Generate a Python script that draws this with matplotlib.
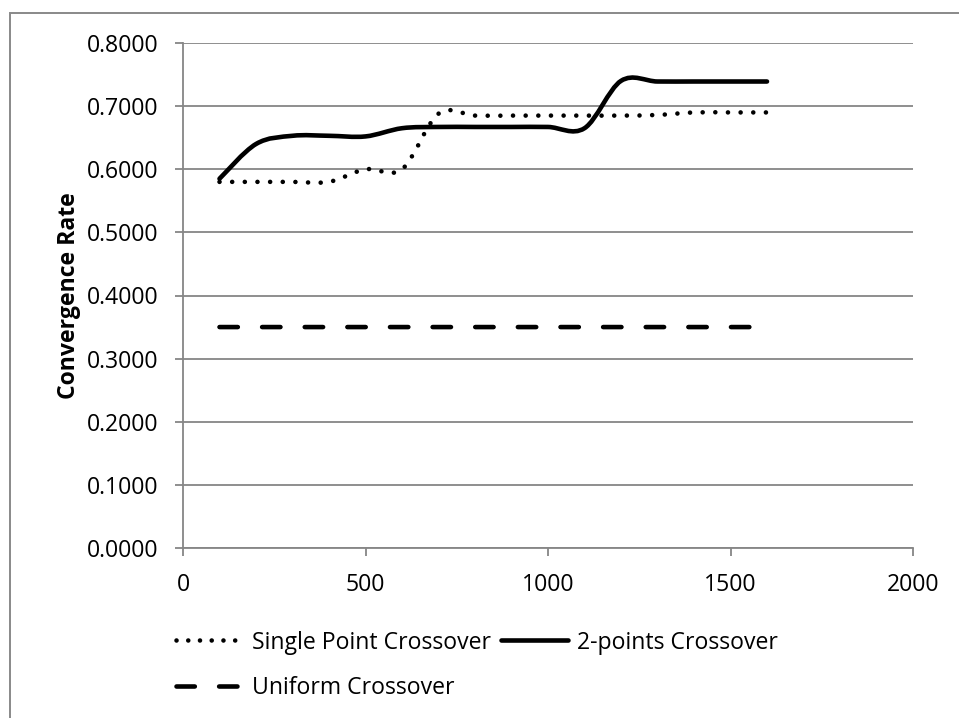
import numpy as np
import matplotlib
matplotlib.use("Agg")
import matplotlib.pyplot as plt
from matplotlib.path import Path
from matplotlib.patches import PathPatch, Rectangle
from matplotlib.lines import Line2D

# data (points every 100 iterations)
iterations = [100, 200, 300, 400, 500, 600, 700, 800, 900, 1000,
              1100, 1200, 1300, 1400, 1500, 1600]
single_point = [0.580, 0.580, 0.580, 0.580, 0.600, 0.600, 0.688, 0.685,
                0.685, 0.685, 0.685, 0.685, 0.686, 0.690, 0.690, 0.690]
two_points = [0.585, 0.640, 0.653, 0.653, 0.652, 0.665, 0.667, 0.667,
              0.667, 0.667, 0.665, 0.740, 0.739, 0.739, 0.739, 0.739]
uniform = [0.350] * 16

y_ticks = [0.0, 0.1, 0.2, 0.3, 0.4, 0.5, 0.6, 0.7, 0.8]
x_ticks = [0, 500, 1000, 1500, 2000]

GRAY = "#868686"
FONT = "Open Sans"
FS = 16.6


def smooth_path(xs, ys):
    # excel style smoothed line: bezier segments with catmull-rom control points
    pts = np.column_stack([xs, ys]).astype(float)
    n = len(pts)
    verts = [pts[0]]
    codes = [Path.MOVETO]
    for i in range(n - 1):
        p0 = pts[max(i - 1, 0)]
        p1 = pts[i]
        p2 = pts[i + 1]
        p3 = pts[min(i + 2, n - 1)]
        c1 = p1 + (p2 - p0) / 6.0
        c2 = p2 - (p3 - p1) / 6.0
        verts += [c1, c2, p2]
        codes += [Path.CURVE4] * 3
    return Path(verts, codes)


fig = plt.figure(figsize=(9.59, 7.18), dpi=100)
ax = fig.add_axes([183 / 959, 1 - 548 / 718, 730 / 959, 505 / 718])

lw = 3.3
dotted = (0, (0.01, 2.75))
dashed = (0, (4.0, 5.3))

ax.add_patch(PathPatch(smooth_path(iterations, single_point), fill=False,
                       edgecolor="black", lw=lw, linestyle=dotted,
                       capstyle="round", joinstyle="round"))
ax.add_patch(PathPatch(smooth_path(iterations, two_points), fill=False,
                       edgecolor="black", lw=lw, capstyle="round",
                       joinstyle="round"))
ax.add_patch(PathPatch(smooth_path(iterations, uniform), fill=False,
                       edgecolor="black", lw=lw, linestyle=dashed,
                       capstyle="round", joinstyle="round"))

ax.set_xlim(0, 2000)
ax.set_ylim(0, 0.8)
ax.set_xticks(x_ticks)
ax.set_yticks(y_ticks)
ax.set_yticklabels(["%.4f" % v for v in y_ticks])
ax.grid(axis="y", color=GRAY, lw=1.3)
ax.set_axisbelow(True)
for s in ["top", "right"]:
    ax.spines[s].set_visible(False)
for s in ["left", "bottom"]:
    ax.spines[s].set_color(GRAY)
    ax.spines[s].set_linewidth(1.3)
ax.tick_params(direction="out", length=6, width=1.3, color=GRAY,
               labelsize=FS, pad=12)
for lab in ax.get_xticklabels() + ax.get_yticklabels():
    lab.set_fontfamily(FONT)

ax.set_ylabel("Convergence Rate", fontsize=FS, fontweight="bold",
              fontfamily=FONT, labelpad=4)

h_single = Line2D([], [], color="black", lw=lw, linestyle=(0, (0.01, 2.55)),
                  dash_capstyle="round", solid_capstyle="round")
h_two = Line2D([], [], color="black", lw=lw, solid_capstyle="round")
h_uni = Line2D([], [], color="black", lw=lw, linestyle=dashed,
               dash_capstyle="round")
leg = fig.legend([h_single, h_uni, h_two],
                 ["Single Point Crossover", "Uniform Crossover",
                  "2-points Crossover"],
                 ncol=2, loc="upper left",
                 bbox_to_anchor=(164 / 959, 1 - 619 / 718),
                 frameon=False, borderpad=0, handlelength=2.9,
                 handletextpad=0.4, columnspacing=0.45, labelspacing=0.95,
                 prop={"family": FONT, "size": FS})

# outer chart frame (cut off at right and bottom)
fig.patches.append(Rectangle((10 / 959, -0.1), 2.0, 1 - 13 / 718 + 0.1,
                             transform=fig.transFigure, fill=False,
                             edgecolor="#898989", lw=1.4))

fig.savefig("out.png", dpi=100)
